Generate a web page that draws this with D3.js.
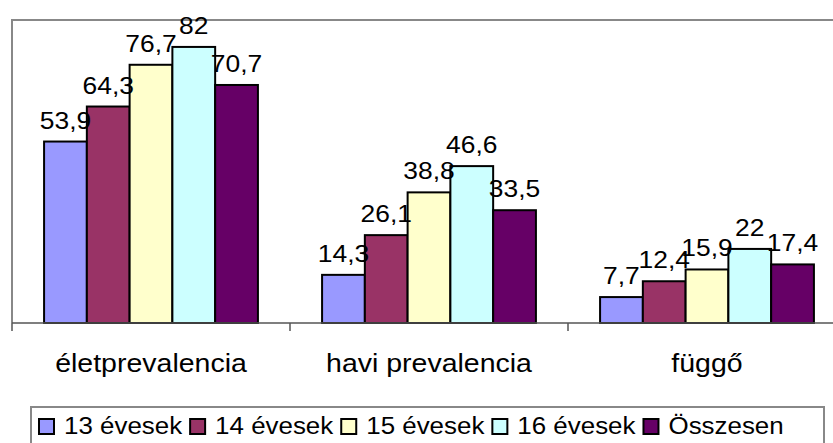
<!DOCTYPE html>
<html>
<head>
<meta charset="utf-8">
<script src="https://cdn.jsdelivr.net/npm/d3@7"></script>
<style>
  html, body { margin: 0; padding: 0; background: #fff; }
  svg { display: block; font-family: Arial, "Liberation Sans", sans-serif; }
</style>
</head>
<body>
<div id="app"></div>
<script>
// data
const categories = ['életprevalencia', 'havi prevalencia', 'függő']
const series = ['13 évesek', '14 évesek', '15 évesek', '16 évesek', 'Összesen']
const values = [
  [53.9, 14.3, 7.7],   // 13 évesek
  [64.3, 26.1, 12.4],  // 14 évesek
  [76.7, 38.8, 15.9],  // 15 évesek
  [82, 46.6, 22],      // 16 évesek
  [70.7, 33.5, 17.4]   // Összesen
]
const colors = ['#9999ff', '#993366', '#ffffcc', '#ccffff', '#660066']

const width = 833
const height = 443

const svg = d3.select('#app').append('svg')
  .attr('width', width)
  .attr('height', height)

const plot = { left: 12, top: 20, bottom: 323, right: 846 }

const x0 = d3.scaleBand()
  .domain(categories)
  .range([plot.left, plot.right])

const x1 = d3.scaleBand()
  .domain(series)
  .range([0, x0.bandwidth()])
  .paddingOuter(0.75)

const y = d3.scaleLinear()
  .domain([0, 90])
  .range([plot.bottom, plot.top])

const color = d3.scaleOrdinal().domain(series).range(colors)

// the original text is a bit wider than plain Arial
const sx = 1.1

// plot area frame (left + top, right side runs off the page)
svg.append('path')
  .attr('d', `M${plot.left},${plot.bottom} V${plot.top} H${width}`)
  .attr('fill', 'none')
  .attr('stroke', '#888')
  .attr('stroke-width', 2)

// bars
const rows = []
categories.forEach((c, ci) => {
  series.forEach((s, si) => {
    rows.push({ cat: c, ser: s, value: values[si][ci] })
  })
})

svg.append('g').selectAll('rect').data(rows).join('rect')
  .attr('x', d => x0(d.cat) + x1(d.ser))
  .attr('y', d => y(d.value))
  .attr('width', x1.bandwidth())
  .attr('height', d => y(0) - y(d.value))
  .attr('fill', d => color(d.ser))
  .attr('stroke', '#000')
  .attr('stroke-width', 2)

// value labels
svg.append('g').selectAll('text').data(rows).join('text')
  .attr('transform', d => `translate(${x0(d.cat) + x1(d.ser) + x1.bandwidth() / 2},${y(d.value) - 13}) scale(${sx},1)`)
  .attr('text-anchor', 'middle')
  .attr('font-size', 24)
  .attr('fill', '#000')
  .text(d => String(d.value).replace('.', ','))

// x axis
const xAxis = d3.axisBottom(x0).tickSize(0).tickFormat('')
const gx = svg.append('g')
  .attr('transform', `translate(0,${plot.bottom})`)
  .call(xAxis)
gx.select('.domain').remove()
gx.append('line')
  .attr('x1', plot.left).attr('x2', width)
  .attr('stroke', '#555').attr('stroke-width', 1.5)

// tick marks between categories
const tickPos = categories.map(c => x0(c)).concat([plot.right])
gx.selectAll('.sep').data(tickPos).join('line')
  .attr('class', 'sep')
  .attr('x1', d => d).attr('x2', d => d)
  .attr('y1', 0).attr('y2', 8)
  .attr('stroke', '#555').attr('stroke-width', 1.5)

svg.append('g').selectAll('text').data(categories).join('text')
  .attr('transform', d => `translate(${x0(d) + x0.bandwidth() / 2},372) scale(1.14,1)`)
  .attr('text-anchor', 'middle')
  .attr('font-size', 25)
  .attr('fill', '#000')
  .text(d => d)

// legend
const legend = svg.append('g')
legend.append('rect')
  .attr('x', 31).attr('y', 407)
  .attr('width', 793).attr('height', 60)
  .attr('fill', '#fff')
  .attr('stroke', '#888')
  .attr('stroke-width', 2)

let lx = 39
series.forEach((s, i) => {
  legend.append('rect')
    .attr('x', lx).attr('y', 419)
    .attr('width', 15).attr('height', 15)
    .attr('fill', colors[i])
    .attr('stroke', '#000')
    .attr('stroke-width', 2)
  const t = legend.append('text')
    .attr('transform', `translate(${lx + 25},434) scale(1.08,1)`)
    .attr('font-size', 24)
    .attr('fill', '#000')
    .text(s)
  lx += 25 + t.node().getComputedTextLength() * 1.08 + 8
})
</script>
</body>
</html>
